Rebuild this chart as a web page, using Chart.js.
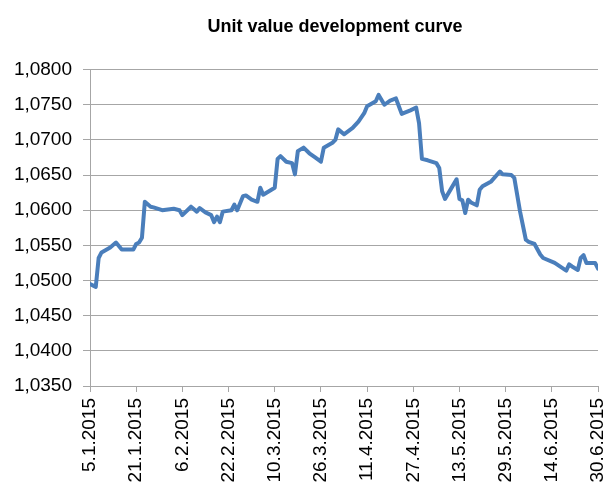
<!DOCTYPE html>
<html>
<head>
<meta charset="utf-8">
<script src="https://cdn.jsdelivr.net/npm/chart.js@4"></script>
<style>
  body { margin: 0; background: #fff; }
  #chart { display: block; }
</style>
</head>
<body>
<canvas id="chart" width="608" height="499"></canvas>
<script>
// values (trading days, 2015)
const dates = [
  '5.1.2015','7.1.2015','8.1.2015','9.1.2015','12.1.2015','14.1.2015','16.1.2015','20.1.2015','21.1.2015','22.1.2015',
  '23.1.2015','24.1.2015','26.1.2015','27.1.2015','30.1.2015','3.2.2015','5.2.2015','6.2.2015','9.2.2015','11.2.2015',
  '12.2.2015','14.2.2015','16.2.2015','17.2.2015','18.2.2015','19.2.2015','20.2.2015','23.2.2015','24.2.2015','25.2.2015',
  '27.2.2015','28.2.2015','2.3.2015','4.3.2015','5.3.2015','6.3.2015','8.3.2015','10.3.2015','11.3.2015','12.3.2015',
  '14.3.2015','16.3.2015','17.3.2015','18.3.2015','20.3.2015','22.3.2015','24.3.2015','26.3.2015','27.3.2015','30.3.2015',
  '31.3.2015','1.4.2015','3.4.2015','6.4.2015','8.4.2015','10.4.2015','11.4.2015','14.4.2015','15.4.2015','17.4.2015',
  '19.4.2015','21.4.2015','23.4.2015','26.4.2015','28.4.2015','29.4.2015','30.4.2015','2.5.2015','5.5.2015','6.5.2015',
  '7.5.2015','8.5.2015','10.5.2015','12.5.2015','13.5.2015','14.5.2015','15.5.2015','16.5.2015','17.5.2015','19.5.2015',
  '20.5.2015','21.5.2015','24.5.2015','27.5.2015','28.5.2015','31.5.2015','1.6.2015','3.6.2015','5.6.2015','6.6.2015',
  '8.6.2015','10.6.2015','11.6.2015','15.6.2015','19.6.2015','20.6.2015','21.6.2015','23.6.2015','24.6.2015','25.6.2015',
  '26.6.2015','28.6.2015','29.6.2015','30.6.2015'
];
const unitValues = [
  1.0495,1.0491,1.0532,1.0540,1.0547,1.0554,1.0544,1.0544,1.0552,1.0554,
  1.0561,1.0612,1.0605,1.0604,1.0600,1.0602,1.0600,1.0593,1.0605,1.0598,
  1.0603,1.0597,1.0593,1.0583,1.0591,1.0583,1.0598,1.0600,1.0608,1.0600,
  1.0620,1.0621,1.0615,1.0612,1.0632,1.0622,1.0627,1.0632,1.0673,1.0677,
  1.0669,1.0667,1.0651,1.0684,1.0689,1.0681,1.0675,1.0669,1.0689,1.0696,
  1.0700,1.0715,1.0708,1.0717,1.0726,1.0738,1.0748,1.0755,1.0764,1.0750,
  1.0756,1.0759,1.0737,1.0742,1.0746,1.0724,1.0673,1.0671,1.0667,1.0660,
  1.0627,1.0616,1.0630,1.0644,1.0616,1.0614,1.0596,1.0615,1.0611,1.0607,
  1.0629,1.0634,1.0641,1.0655,1.0651,1.0650,1.0646,1.0598,1.0558,1.0555,
  1.0552,1.0537,1.0532,1.0525,1.0514,1.0523,1.0520,1.0515,1.0532,1.0536,
  1.0525,1.0525,1.0525,1.0517
];
const firstTick = '5.1.2015';
const lastTick = '30.6.2015';
const tickStepDays = 16;
const yMin = 1.035, yMax = 1.080, yStep = 0.005;

const DAY = 86400000;
function parseDate(s) {
  const p = s.split('.');
  return Date.UTC(+p[2], +p[1] - 1, +p[0]);
}
const base = parseDate(firstTick);
function dayOf(s) { return Math.round((parseDate(s) - base) / DAY); }
function labelOf(d) {
  const t = new Date(base + d * DAY);
  return t.getUTCDate() + '.' + (t.getUTCMonth() + 1) + '.' + t.getUTCFullYear();
}

const points = dates.map((d, i) => ({ x: dayOf(d), y: unitValues[i] }));
const gridGray = '#a6a6a6';
const fontFam = '"Liberation Sans", Arial, sans-serif';

// nudge the title a bit left of the plot centre, like the excel original
const titleShift = {
  id: 'titleShift',
  afterLayout(chart) {
    const t = chart.titleBlock;
    if (t) { t.left -= 9; t.right -= 9; }
  }
};

new Chart(document.getElementById('chart'), {
  type: 'line',
  data: {
    datasets: [{
      label: 'Unit value',
      data: points,
      borderColor: '#4a7ebb',
      borderWidth: 4,
      pointRadius: 0,
      tension: 0,
      borderCapStyle: 'round',
      borderJoinStyle: 'round',
      fill: false
    }]
  },
  options: {
    responsive: false,
    animation: false,
    layout: { padding: 0 },
    plugins: {
      legend: { display: false },
      tooltip: { enabled: false },
      title: {
        display: true,
        fullSize: false,
        text: 'Unit value development curve',
        color: '#000',
        font: { family: fontFam, size: 18, weight: 'bold' },
        padding: { top: 16, bottom: 32 }
      }
    },
    scales: {
      x: {
        type: 'linear',
        min: 0,
        max: dayOf(lastTick),
        afterFit: s => { s.height = 113; s.paddingRight = 10; },
        grid: { drawOnChartArea: false, drawTicks: true, tickLength: 6, color: gridGray },
        border: { display: true, color: gridGray },
        ticks: {
          stepSize: tickStepDays,
          autoSkip: false,
          maxTicksLimit: 30,
          minRotation: 90,
          maxRotation: 90,
          padding: 6,
          color: '#000',
          font: { family: fontFam, size: 19 },
          callback: v => labelOf(v)
        }
      },
      y: {
        min: yMin,
        max: yMax,
        afterFit: s => { s.width = 90; },
        grid: { color: gridGray, tickLength: 7 },
        border: { display: true, color: gridGray },
        ticks: {
          stepSize: yStep,
          padding: 11,
          color: '#000',
          font: { family: fontFam, size: 19 },
          callback: v => v.toFixed(4).replace('.', ',')
        }
      }
    }
  },
  plugins: [titleShift]
});
</script>
</body>
</html>
